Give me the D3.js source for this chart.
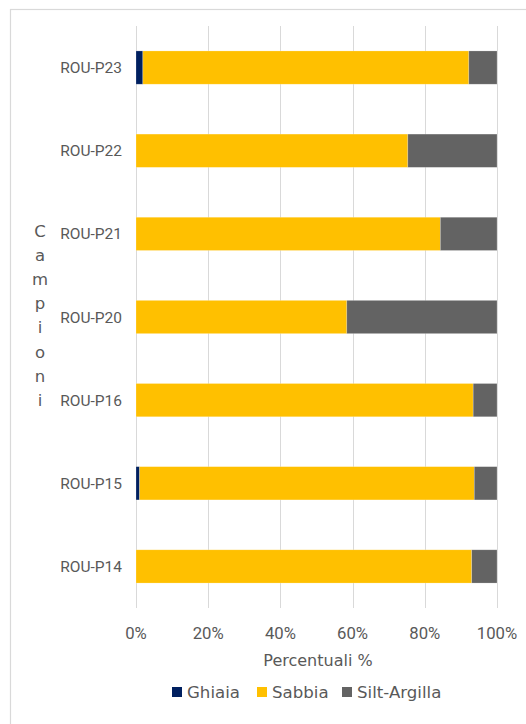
<!DOCTYPE html>
<html><head><meta charset="utf-8">
<script src="https://cdn.jsdelivr.net/npm/d3@7"></script>
<style>body{margin:0;background:#fff}svg{display:block}</style>
</head><body>
<svg id="c" width="526" height="724"></svg>
<script>
const categories = ["ROU-P23","ROU-P22","ROU-P21","ROU-P20","ROU-P16","ROU-P15","ROU-P14"];
const seriesNames = ["Ghiaia","Sabbia","Silt-Argilla"];
const ghiaia = [1.9, 0, 0, 0, 0, 1.0, 0];
const sabbia = [90.3, 75.3, 84.3, 58.4, 93.4, 92.7, 93.0];
const silt   = [7.8, 24.7, 15.7, 41.6, 6.6, 6.3, 7.0];
const tickValues = [0, 20, 40, 60, 80, 100];
const colors = ["#002060", "#FFC000", "#636363"];
const xTitle = "Percentuali %";
const yTitle = "Campioni";

const svg = d3.select("#c");
svg.append("rect").attr("x",10.5).attr("y",9.5).attr("width",600).attr("height",800)
  .attr("fill","#fff").attr("stroke","#d9d9d9").attr("stroke-width",1.2);

const x = d3.scaleLinear().domain([0,100]).range([136,497]);
const y = d3.scaleBand().domain(categories).range([26,608]).paddingInner(0.6).paddingOuter(0.3);

// gridlines
svg.append("g").selectAll("line").data(tickValues).join("line")
  .attr("x1",d=>Math.round(x(d))+0.5).attr("x2",d=>Math.round(x(d))+0.5)
  .attr("y1",26).attr("y2",608).attr("stroke","#d9d9d9").attr("stroke-width",1);

const rows = categories.map((c,i)=>({cat:c, Ghiaia:ghiaia[i], Sabbia:sabbia[i], "Silt-Argilla":silt[i]}));
const stacked = d3.stack().keys(seriesNames)(rows);

svg.append("g").selectAll("g").data(stacked).join("g")
  .attr("fill",(d,i)=>colors[i])
  .selectAll("rect").data(d=>d.filter(p=>p[1]-p[0]>0)).join("rect")
  .attr("x",d=>x(d[0])).attr("width",d=>x(d[1])-x(d[0]))
  .attr("y",d=>y(d.data.cat)).attr("height",y.bandwidth())
  .attr("stroke","#fff").attr("stroke-opacity",0.35).attr("stroke-width",0.6);

// x tick labels
svg.append("g").selectAll("text").data(tickValues).join("text")
  .attr("x",d=>x(d)).attr("y",638.5).attr("text-anchor","middle")
  .attr("font-family","Roboto").attr("font-size",16.7).attr("fill","#595959")
  .text(d=>d+"%");

// y labels
svg.append("g").selectAll("text").data(categories).join("text")
  .attr("x",122).attr("y",d=>y(d)+y.bandwidth()/2).attr("dy","0.36em")
  .attr("text-anchor","end").attr("font-family","Roboto").attr("font-size",15.5).attr("fill","#595959")
  .text(d=>d);

// x title
svg.append("text").attr("x",318).attr("y",666).attr("text-anchor","middle")
  .attr("font-family","DejaVu Sans").attr("font-size",16).attr("fill","#595959").text(xTitle);

// y title, stacked letters
svg.append("g").selectAll("text").data(yTitle.split("")).join("text")
  .attr("x",40).attr("y",(d,i)=>237+i*24.1).attr("text-anchor","middle")
  .attr("font-family","DejaVu Sans").attr("font-size",16.5).attr("fill","#595959")
  .text(d=>d);

// legend
const legX = [172, 257, 342];
const leg = svg.append("g").selectAll("g").data(seriesNames).join("g")
  .attr("transform",(d,i)=>`translate(${legX[i]},0)`);
leg.append("rect").attr("x",0).attr("y",687).attr("width",10).attr("height",10)
  .attr("fill",(d,i)=>colors[i]);
leg.append("text").attr("x",15).attr("y",698)
  .attr("font-family","DejaVu Sans").attr("font-size",16.6).attr("fill","#595959").text(d=>d);
</script>
</body></html>
